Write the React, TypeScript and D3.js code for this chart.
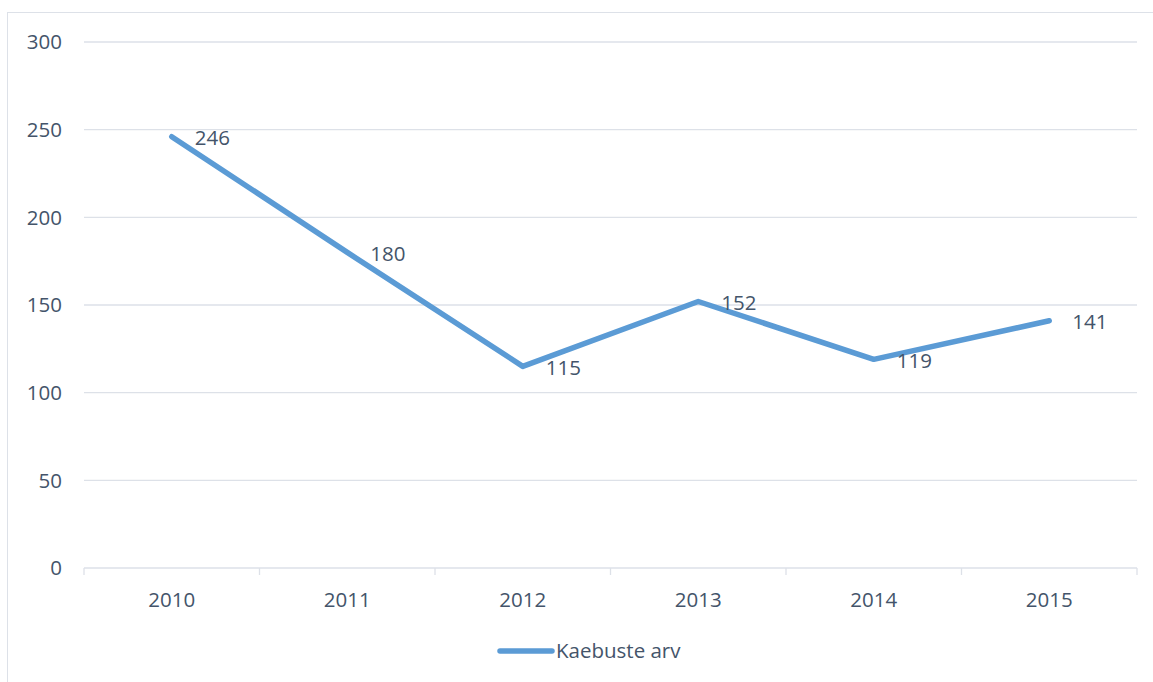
import React, { useEffect, useRef } from "react";
import * as d3 from "d3";

const years = ["2010", "2011", "2012", "2013", "2014", "2015"];
const complaints = [246, 180, 115, 152, 119, 141];
const yTicks = [0, 50, 100, 150, 200, 250, 300];
const seriesName = "Kaebuste arv";

const WIDTH = 1153;
const HEIGHT = 682;
const FONT = "'Open Sans', sans-serif";
const FS = "20.5px";
const TEXT = "#44546a";
const GRID = "#dde1e8";
const BLUE = "#5b9bd5";

export default function App() {
  const ref = useRef<SVGSVGElement | null>(null);

  useEffect(() => {
    const svg = d3.select(ref.current);
    svg.selectAll("*").remove();

    // outer chart frame (runs off the page on the right and bottom)
    svg.append("rect")
      .attr("x", 7.5).attr("y", 12.5)
      .attr("width", WIDTH).attr("height", HEIGHT)
      .attr("fill", "white")
      .attr("stroke", GRID);

    const x = d3.scaleBand().domain(years).range([84, 1137]);
    const y = d3.scaleLinear().domain([0, 300]).range([568, 42]);

    // gridlines + y labels
    const grid = svg.append("g");
    grid.selectAll("line")
      .data(yTicks)
      .enter().append("line")
      .attr("x1", 84).attr("x2", 1137)
      .attr("y1", (d) => y(d)).attr("y2", (d) => y(d))
      .attr("stroke", GRID).attr("stroke-width", 1.3);

    grid.selectAll("text")
      .data(yTicks)
      .enter().append("text")
      .attr("x", 62)
      .attr("y", (d) => y(d))
      .attr("dy", "0.35em")
      .attr("text-anchor", "end")
      .style("font-family", FONT).style("font-size", FS)
      .style("fill", TEXT)
      .text((d) => d);

    // category ticks between bands
    const edges = years.map((d) => x(d) as number).concat([1137]);
    svg.append("g").selectAll("line")
      .data(edges)
      .enter().append("line")
      .attr("x1", (d) => d).attr("x2", (d) => d)
      .attr("y1", y(0)).attr("y2", y(0) + 7)
      .attr("stroke", GRID).attr("stroke-width", 1.3);

    svg.append("g").selectAll("text")
      .data(years)
      .enter().append("text")
      .attr("x", (d) => (x(d) as number) + x.bandwidth() / 2)
      .attr("y", 600)
      .attr("dy", "0.35em")
      .attr("text-anchor", "middle")
      .style("font-family", FONT).style("font-size", FS)
      .style("fill", TEXT)
      .text((d) => d);

    // the series
    const cx = (i: number) => (x(years[i]) as number) + x.bandwidth() / 2;
    const line = d3.line<number>()
      .x((_, i) => cx(i))
      .y((d) => y(d));

    svg.append("path")
      .datum(complaints)
      .attr("d", line)
      .attr("fill", "none")
      .attr("stroke", BLUE)
      .attr("stroke-width", 5.5)
      .attr("stroke-linejoin", "round")
      .attr("stroke-linecap", "round");

    svg.append("g").selectAll("text")
      .data(complaints)
      .enter().append("text")
      .attr("x", (_, i) => cx(i) + 23)
      .attr("y", (d) => y(d) + 1)
      .attr("dy", "0.35em")
      .style("font-family", FONT).style("font-size", FS)
      .style("fill", TEXT)
      .text((d) => d);

    // legend
    const legend = svg.append("g").attr("transform", "translate(498, 651)");
    legend.append("line")
      .attr("x1", 2).attr("x2", 54)
      .attr("stroke", BLUE).attr("stroke-width", 5.5)
      .attr("stroke-linecap", "round");
    legend.append("text")
      .attr("x", 58)
      .attr("dy", "0.35em")
      .style("font-family", FONT).style("font-size", FS)
      .style("fill", TEXT)
      .text(seriesName);
  }, []);

  return (
    <svg
      ref={ref}
      width={WIDTH}
      height={HEIGHT}
      style={{ position: "absolute", left: 0, top: 0, background: "white" }}
    />
  );
}
